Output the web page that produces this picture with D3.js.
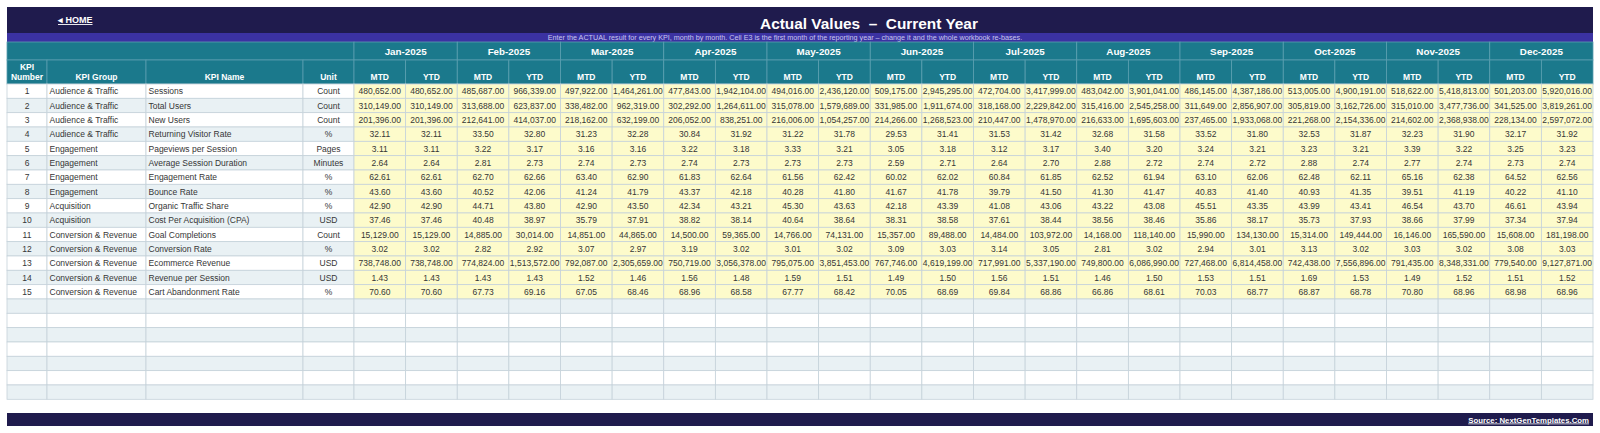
<!DOCTYPE html>
<html lang="en">
  <head>
    <meta charset="UTF-8" />
    <title>Actual Values - Current Year</title>
    <script src="https://cdn.jsdelivr.net/npm/d3@7"></script>
    <style>
      body {
        margin: 0;
        background: #ffffff;
      }
      svg {
        display: block;
        font-family: "Liberation Sans", Arial, sans-serif;
      }
    </style>
  </head>
  <body>
    <svg id="sheet" width="1600" height="433"></svg>
    <script>
      // sheet data
      const months = [
        "Jan-2025", "Feb-2025", "Mar-2025", "Apr-2025", "May-2025", "Jun-2025",
        "Jul-2025", "Aug-2025", "Sep-2025", "Oct-2025", "Nov-2025", "Dec-2025",
      ];
      const kpiGroups = [
        "Audience & Traffic", "Audience & Traffic", "Audience & Traffic", "Audience & Traffic",
        "Engagement", "Engagement", "Engagement", "Engagement",
        "Acquisition", "Acquisition",
        "Conversion & Revenue", "Conversion & Revenue", "Conversion & Revenue",
        "Conversion & Revenue", "Conversion & Revenue",
      ];
      const kpiNames = [
        "Sessions", "Total Users", "New Users", "Returning Visitor Rate",
        "Pageviews per Session", "Average Session Duration", "Engagement Rate", "Bounce Rate",
        "Organic Traffic Share", "Cost Per Acquisition (CPA)", "Goal Completions",
        "Conversion Rate", "Ecommerce Revenue", "Revenue per Session", "Cart Abandonment Rate",
      ];
      const kpiUnits = [
        "Count", "Count", "Count", "%", "Pages", "Minutes", "%", "%",
        "%", "USD", "Count", "%", "USD", "USD", "%",
      ];
      const mtdValues = [
        [480652, 485687, 497922, 477843, 494016, 509175, 472704, 483042, 486145, 513005, 518622, 501203],
        [310149, 313688, 338482, 302292, 315078, 331985, 318168, 315416, 311649, 305819, 315010, 341525],
        [201396, 212641, 218162, 206052, 216006, 214266, 210447, 216633, 237465, 221268, 214602, 228134],
        [32.11, 33.5, 31.23, 30.84, 31.22, 29.53, 31.53, 32.68, 33.52, 32.53, 32.23, 32.17],
        [3.11, 3.22, 3.16, 3.22, 3.33, 3.05, 3.12, 3.4, 3.24, 3.23, 3.39, 3.25],
        [2.64, 2.81, 2.74, 2.74, 2.73, 2.59, 2.64, 2.88, 2.74, 2.88, 2.77, 2.73],
        [62.61, 62.7, 63.4, 61.83, 61.56, 60.02, 60.84, 62.52, 63.1, 62.48, 65.16, 64.52],
        [43.6, 40.52, 41.24, 43.37, 40.28, 41.67, 39.79, 41.3, 40.83, 40.93, 39.51, 40.22],
        [42.9, 44.71, 42.9, 42.34, 45.3, 42.18, 41.08, 43.22, 45.51, 43.99, 46.54, 46.61],
        [37.46, 40.48, 35.79, 38.82, 40.64, 38.31, 37.61, 38.56, 35.86, 35.73, 38.66, 37.34],
        [15129, 14885, 14851, 14500, 14766, 15357, 14484, 14168, 15990, 15314, 16146, 15608],
        [3.02, 2.82, 3.07, 3.19, 3.01, 3.09, 3.14, 2.81, 2.94, 3.13, 3.03, 3.08],
        [738748, 774824, 792087, 750719, 795075, 767746, 717991, 749800, 727468, 742438, 791435, 779540],
        [1.43, 1.43, 1.52, 1.56, 1.59, 1.49, 1.56, 1.46, 1.53, 1.69, 1.49, 1.51],
        [70.6, 67.73, 67.05, 68.96, 67.77, 70.05, 69.84, 66.86, 70.03, 68.87, 70.8, 68.98],
      ];
      const ytdValues = [
        [480652, 966339, 1464261, 1942104, 2436120, 2945295, 3417999, 3901041, 4387186, 4900191, 5418813, 5920016],
        [310149, 623837, 962319, 1264611, 1579689, 1911674, 2229842, 2545258, 2856907, 3162726, 3477736, 3819261],
        [201396, 414037, 632199, 838251, 1054257, 1268523, 1478970, 1695603, 1933068, 2154336, 2368938, 2597072],
        [32.11, 32.8, 32.28, 31.92, 31.78, 31.41, 31.42, 31.58, 31.8, 31.87, 31.9, 31.92],
        [3.11, 3.17, 3.16, 3.18, 3.21, 3.18, 3.17, 3.2, 3.21, 3.21, 3.22, 3.23],
        [2.64, 2.73, 2.73, 2.73, 2.73, 2.71, 2.7, 2.72, 2.72, 2.74, 2.74, 2.74],
        [62.61, 62.66, 62.9, 62.64, 62.42, 62.02, 61.85, 61.94, 62.06, 62.11, 62.38, 62.56],
        [43.6, 42.06, 41.79, 42.18, 41.8, 41.78, 41.5, 41.47, 41.4, 41.35, 41.19, 41.1],
        [42.9, 43.8, 43.5, 43.21, 43.63, 43.39, 43.06, 43.08, 43.35, 43.41, 43.7, 43.94],
        [37.46, 38.97, 37.91, 38.14, 38.64, 38.58, 38.44, 38.46, 38.17, 37.93, 37.99, 37.94],
        [15129, 30014, 44865, 59365, 74131, 89488, 103972, 118140, 134130, 149444, 165590, 181198],
        [3.02, 2.92, 2.97, 3.02, 3.02, 3.03, 3.05, 3.02, 3.01, 3.02, 3.02, 3.03],
        [738748, 1513572, 2305659, 3056378, 3851453, 4619199, 5337190, 6086990, 6814458, 7556896, 8348331, 9127871],
        [1.43, 1.43, 1.46, 1.48, 1.51, 1.5, 1.51, 1.5, 1.51, 1.53, 1.52, 1.52],
        [70.6, 69.16, 68.46, 68.58, 68.42, 68.69, 68.86, 68.61, 68.77, 68.78, 68.96, 68.96],
      ];
      const blankRows = 7;

      const svg = d3.select("#sheet");
      const fmt = d3.format(",.2f");

      const left = 7,
        right = 1593;
      const navy = "#1f1b4d",
        teal = "#1b798c",
        tealLine = "#5a9fb0",
        grid = "#c5d2da",
        ink = "#363636";

      // fixed (text) columns
      const fixedCols = [
        { key: "num", label: ["KPI", "Number"], x0: 7, x1: 47, align: "middle" },
        { key: "group", label: ["KPI Group"], x0: 47, x1: 146, align: "start" },
        { key: "name", label: ["KPI Name"], x0: 146, x1: 303, align: "start" },
        { key: "unit", label: ["Unit"], x0: 303, x1: 354, align: "middle" },
      ];

      const x = d3.scaleBand().domain(months).range([354, right]);
      const xSub = d3.scaleBand().domain(["MTD", "YTD"]).range([0, x.bandwidth()]);
      const totalRows = kpiNames.length + blankRows;
      const y = d3.scaleBand().domain(d3.range(totalRows)).range([84, 399.3]);

      // top banner
      svg.append("rect").attr("x", left).attr("y", 7).attr("width", right - left).attr("height", 26).attr("fill", navy);
      svg.append("rect").attr("x", left).attr("y", 33).attr("width", right - left).attr("height", 9).attr("fill", "#3b32a2");

      svg.append("text")
        .attr("x", 58).attr("y", 23)
        .attr("fill", "#fff").attr("font-size", 9).attr("font-weight", "bold")
        .attr("text-decoration", "underline")
        .text("\u25C2 HOME");

      svg.append("text")
        .attr("x", 869).attr("y", 28.5)
        .attr("text-anchor", "middle")
        .attr("fill", "#fff").attr("font-size", 15.4).attr("font-weight", "bold")
        .style("white-space", "pre")
        .text("Actual Values  \u2013  Current Year");

      svg.append("text")
        .attr("x", 785).attr("y", 40)
        .attr("text-anchor", "middle")
        .attr("fill", "#c9c5ee").attr("font-size", 7.2)
        .text("Enter the ACTUAL result for every KPI, month by month. Cell E3 is the first month of the reporting year \u2013 change it and the whole workbook re-bases.");

      // header rows
      const head = svg.append("g");
      head.append("rect")
        .attr("x", left).attr("y", 42).attr("width", 354 - left).attr("height", 18)
        .attr("fill", teal).attr("stroke", tealLine).attr("stroke-width", 0.8);

      const monthHead = head.selectAll("g.month").data(months).join("g").attr("class", "month");
      monthHead.append("rect")
        .attr("x", (d) => x(d)).attr("y", 42).attr("width", x.bandwidth()).attr("height", 18)
        .attr("fill", teal).attr("stroke", tealLine).attr("stroke-width", 0.8);
      monthHead.append("text")
        .attr("x", (d) => x(d) + x.bandwidth() / 2).attr("y", 55)
        .attr("text-anchor", "middle").attr("fill", "#fff")
        .attr("font-size", 9.8).attr("font-weight", "bold")
        .text((d) => d);

      const fixedHead = head.selectAll("g.fhead").data(fixedCols).join("g").attr("class", "fhead");
      fixedHead.append("rect")
        .attr("x", (d) => d.x0).attr("y", 60).attr("width", (d) => d.x1 - d.x0).attr("height", 24)
        .attr("fill", teal).attr("stroke", tealLine).attr("stroke-width", 0.8);
      fixedHead.append("text")
        .attr("x", (d) => (d.x0 + d.x1) / 2)
        .attr("text-anchor", "middle").attr("fill", "#fff")
        .attr("font-size", 8.5).attr("font-weight", "bold")
        .each(function (d) {
          const t = d3.select(this);
          d.label.forEach((line, i) => {
            t.append("tspan")
              .attr("x", (d.x0 + d.x1) / 2)
              .attr("y", 80 - (d.label.length - 1 - i) * 10)
              .text(line);
          });
        });

      const subCells = months.flatMap((m) => xSub.domain().map((k) => ({ m, k })));
      const subHead = head.selectAll("g.sub").data(subCells).join("g").attr("class", "sub");
      subHead.append("rect")
        .attr("x", (d) => x(d.m) + xSub(d.k)).attr("y", 60).attr("width", xSub.bandwidth()).attr("height", 24)
        .attr("fill", teal).attr("stroke", tealLine).attr("stroke-width", 0.8);
      subHead.append("text")
        .attr("x", (d) => x(d.m) + xSub(d.k) + xSub.bandwidth() / 2).attr("y", 80)
        .attr("text-anchor", "middle").attr("fill", "#fff")
        .attr("font-size", 8.5).attr("font-weight", "bold")
        .text((d) => d.k);

      // body rows
      const rowFill = (i) => (i % 2 === 0 ? "#ffffff" : "#e9f1f4");
      const rows = svg.append("g").selectAll("g.row").data(d3.range(totalRows)).join("g")
        .attr("class", "row")
        .attr("transform", (i) => `translate(0,${y(i)})`);

      const textOf = (col, i) => {
        if (i >= kpiNames.length) return "";
        if (col.key === "num") return String(i + 1);
        if (col.key === "group") return kpiGroups[i];
        if (col.key === "name") return kpiNames[i];
        return kpiUnits[i];
      };

      rows.each(function (i) {
        const r = d3.select(this);
        const filled = i < kpiNames.length;

        const fc = r.selectAll("g.fc").data(fixedCols).join("g").attr("class", "fc");
        fc.append("rect")
          .attr("x", (d) => d.x0).attr("width", (d) => d.x1 - d.x0).attr("height", y.bandwidth())
          .attr("fill", rowFill(i)).attr("stroke", grid).attr("stroke-width", 0.8);
        fc.append("text")
          .attr("x", (d) => (d.align === "middle" ? (d.x0 + d.x1) / 2 : d.x0 + 2.5))
          .attr("y", y.bandwidth() / 2 + 3.1)
          .attr("text-anchor", (d) => d.align)
          .attr("fill", ink).attr("font-size", 8.5)
          .text((d) => textOf(d, i));

        const cells = months.flatMap((m, j) => [
          { m, k: "MTD", v: filled ? mtdValues[i][j] : null },
          { m, k: "YTD", v: filled ? ytdValues[i][j] : null },
        ]);
        const vc = r.selectAll("g.vc").data(cells).join("g").attr("class", "vc");
        vc.append("rect")
          .attr("x", (d) => x(d.m) + xSub(d.k)).attr("width", xSub.bandwidth()).attr("height", y.bandwidth())
          .attr("fill", filled ? "#fdfbcb" : rowFill(i)).attr("stroke", grid).attr("stroke-width", 0.8);
        vc.append("text")
          .attr("x", (d) => x(d.m) + xSub(d.k) + xSub.bandwidth() / 2)
          .attr("y", y.bandwidth() / 2 + 3.1)
          .attr("text-anchor", "middle")
          .attr("fill", ink).attr("font-size", 8.5)
          .text((d) => (d.v == null ? "" : fmt(d.v)));
      });

      // footer
      svg.append("rect").attr("x", left).attr("y", 413).attr("width", right - left).attr("height", 13).attr("fill", navy);
      svg.append("text")
        .attr("x", 1589).attr("y", 422.5)
        .attr("text-anchor", "end")
        .attr("fill", "#fff").attr("font-size", 7.8).attr("font-weight", "bold")
        .attr("text-decoration", "underline")
        .text("Source: NextGenTemplates.Com");
    </script>
  </body>
</html>
